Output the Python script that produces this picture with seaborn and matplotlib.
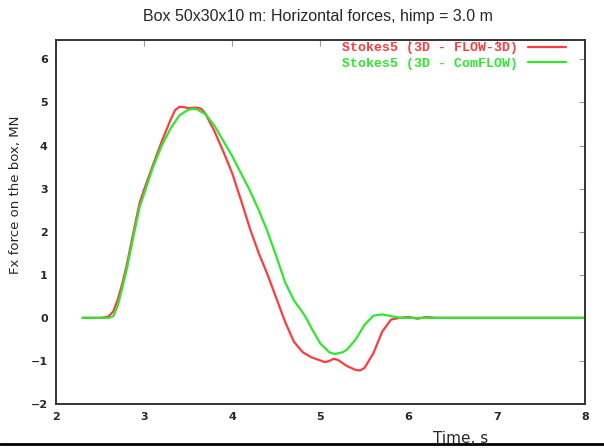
import matplotlib
matplotlib.use("Agg")
import matplotlib.pyplot as plt
import numpy as np
import pandas as pd
import seaborn as sns
from matplotlib.lines import Line2D

# ── Data ──────────────────────────────────────────────────────────────────────
t_flow3d = [2.3, 2.5, 2.55, 2.6, 2.65, 2.7, 2.75, 2.8, 2.85, 2.9, 2.95, 3.0, 3.1, 3.2,
            3.3, 3.35, 3.4, 3.45, 3.5, 3.6, 3.65, 3.7, 3.8, 3.9, 4.0, 4.1, 4.2,
            4.3, 4.4, 4.5, 4.6, 4.7, 4.8, 4.9, 5.0, 5.05, 5.1, 5.15, 5.2, 5.3,
            5.4, 5.45, 5.5, 5.6, 5.7, 5.8, 5.9, 6.0, 6.1, 6.2, 6.3, 8.0]
fx_flow3d = [0.0, 0.0, 0.01, 0.04, 0.15, 0.42, 0.78, 1.2, 1.7, 2.2, 2.68, 2.98, 3.55, 4.1,
             4.6, 4.82, 4.9, 4.89, 4.87, 4.88, 4.85, 4.72, 4.32, 3.85, 3.35, 2.72, 2.07,
             1.5, 1.0, 0.45, -0.1, -0.56, -0.8, -0.92, -0.99, -1.03, -1.0, -0.95, -0.98, -1.12,
             -1.21, -1.22, -1.16, -0.82, -0.32, -0.04, 0.0, 0.02, -0.02, 0.02, 0.0, 0.0]

t_comflow = [2.3, 2.6, 2.65, 2.7, 2.75, 2.8, 2.85, 2.9, 2.95, 3.0, 3.1, 3.2, 3.3, 3.4,
             3.5, 3.55, 3.6, 3.7, 3.8, 3.9, 4.0, 4.1, 4.2, 4.3, 4.4, 4.5, 4.6,
             4.7, 4.8, 4.85, 4.9, 5.0, 5.1, 5.16, 5.25, 5.3, 5.4, 5.5, 5.6, 5.7,
             5.8, 5.9, 8.0]
fx_comflow = [0.0, 0.0, 0.04, 0.28, 0.68, 1.1, 1.6, 2.1, 2.58, 2.88, 3.5, 4.0, 4.4, 4.7,
              4.83, 4.85, 4.84, 4.72, 4.45, 4.1, 3.75, 3.35, 2.95, 2.5, 2.0, 1.42, 0.82,
              0.4, 0.12, -0.05, -0.25, -0.6, -0.8, -0.84, -0.8, -0.74, -0.5, -0.16, 0.05, 0.08,
              0.04, 0.0, 0.0]

label_flow3d = "Stokes5 (3D - FLOW-3D)"
label_comflow = "Stokes5 (3D - ComFLOW)"

df = pd.concat([
    pd.DataFrame({"t": t_flow3d, "fx": fx_flow3d, "series": label_flow3d}),
    pd.DataFrame({"t": t_comflow, "fx": fx_comflow, "series": label_comflow}),
])

# ── Plot ──────────────────────────────────────────────────────────────────────
sns.set_style("white")
fig = plt.figure(figsize=(6.04, 4.48), dpi=100)
ax = fig.add_axes([56 / 604, 1 - 404 / 448, (585 - 56) / 604, (404 - 40) / 448])

palette = {label_flow3d: "#ff3c3c", label_comflow: "#2ee82e"}
sns.lineplot(data=df, x="t", y="fx", hue="series", palette=palette, sort=False,
             estimator=None, linewidth=1.6, ax=ax)

ax.set_xlim(2, 8)
ax.set_ylim(-2, 6.45)
ax.set_xticks(range(2, 9))
ax.set_yticks(range(-2, 7))
ax.tick_params(axis="both", direction="in", length=4, width=0.8, color="#999999",
               top=True, right=True, labelsize=8, pad=6)
for lbl in ax.get_xticklabels() + ax.get_yticklabels():
    lbl.set_fontweight("bold")
for sp in ax.spines.values():
    sp.set_visible(True)
    sp.set_color("#333333")
    sp.set_linewidth(1.4)
ax.set_xlabel("")
ax.set_ylabel("")

leg = ax.legend(loc="upper right", bbox_to_anchor=((568 - 56) / 529, 1.0),
                frameon=False, markerfirst=False, labelcolor="linecolor",
                handlelength=2.9, handletextpad=0.75, borderaxespad=0.0,
                borderpad=0.15, labelspacing=0.25,
                prop={"family": "Liberation Mono", "weight": "bold", "size": 9.5})

fig.text(318 / 604, 1 - 17 / 448, "Box 50x30x10 m: Horizontal forces, himp = 3.0 m",
         ha="center", va="center", fontsize=11.5, family="Liberation Sans")
fig.text(16 / 604, 1 - 195 / 448, "Fx force on the box, MN", rotation=90,
         ha="center", va="center", fontsize=9.5, family="DejaVu Sans")
fig.text(461 / 604, 1 - 438 / 448, "Time, s", ha="center", va="center",
         fontsize=11, family="DejaVu Sans")
fig.add_artist(Line2D([0, 1], [1 - 444 / 448, 1 - 444 / 448], color="black",
                      linewidth=2, transform=fig.transFigure))

fig.savefig("out.png", dpi=100)
